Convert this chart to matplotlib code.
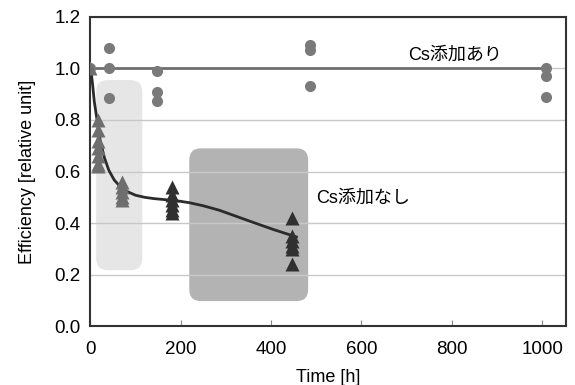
import matplotlib.pyplot as plt
from matplotlib.patches import FancyBboxPatch

plt.rcParams['font.family'] = ['Liberation Sans', 'Noto Sans CJK JP', 'DejaVu Sans']

# Cs添加あり (circles)
t_cs = [0, 42, 42, 42, 148, 148, 148, 485, 485, 485, 1009, 1009, 1009]
eff_cs = [1.0, 1.08, 1.0, 0.885, 0.99, 0.91, 0.875, 1.09, 1.07, 0.93, 1.0, 0.97, 0.89]

# Cs添加なし (triangles), early points lighter grey
t_early = [0, 16, 16, 16, 16, 16, 16, 16, 71, 71, 71, 71, 71]
eff_early = [1.0, 0.80, 0.76, 0.72, 0.69, 0.66, 0.63, 0.62, 0.56, 0.54, 0.52, 0.50, 0.49]
t_late = [181, 181, 181, 181, 181, 181, 447, 447, 447, 447, 447, 447]
eff_late = [0.54, 0.51, 0.49, 0.47, 0.45, 0.44, 0.42, 0.35, 0.33, 0.31, 0.30, 0.24]

# trend curve for Cs添加なし
t_fit = [0, 2, 5, 9, 15, 22, 31, 41, 53, 67, 82, 100, 120, 140, 164, 197, 219, 250,
         285, 320, 358, 405, 456]
eff_fit = [1.0, 0.985, 0.94, 0.87, 0.80, 0.72, 0.655, 0.605, 0.567, 0.54, 0.522, 0.508,
           0.50, 0.495, 0.491, 0.485, 0.479, 0.467, 0.45, 0.428, 0.404, 0.375, 0.346]

# level line for Cs添加あり
t_ref = [0, 1009]
eff_ref = [1.0, 1.0]

fig = plt.figure(figsize=(5.75, 3.85), dpi=100)
ax = fig.add_axes([0.157, 0.153, 0.827, 0.803])

# shaded regions (rounded boxes)
aspect = 0.00176
box1 = FancyBboxPatch((13, 0.217), 102, 0.738, boxstyle="round,pad=0,rounding_size=26",
                      mutation_aspect=aspect, fc="#e6e6e6", ec="none", zorder=0.2)
box2 = FancyBboxPatch((219, 0.097), 263, 0.593, boxstyle="round,pad=0,rounding_size=26",
                      mutation_aspect=aspect, fc="#b3b3b3", ec="none", zorder=0.2)
ax.add_patch(box1)
ax.add_patch(box2)

ax.plot(t_ref, eff_ref, color="#6f6f6f", lw=2, zorder=2)
ax.plot(t_fit, eff_fit, color="#2b2b2b", lw=2, zorder=3)
ax.plot(t_cs, eff_cs, "o", color="#7a7a7a", ms=8, mec="none", zorder=4)
ax.plot(t_early, eff_early, "^", color="#6e6e6e", ms=9.5, mec="none", zorder=4)
ax.plot(t_late, eff_late, "^", color="#303030", ms=9.5, mec="none", zorder=4)

ax.text(806, 1.05, "Cs添加あり", fontsize=13, ha="center", va="center")
ax.text(500, 0.495, "Cs添加なし", fontsize=13, ha="left", va="center")

ax.set_xlim(0, 1052)
ax.set_ylim(0, 1.2)
ax.set_xticks([0, 200, 400, 600, 800, 1000])
ax.set_yticks([0, 0.2, 0.4, 0.6, 0.8, 1.0, 1.2])
ax.set_yticklabels(["0.0", "0.2", "0.4", "0.6", "0.8", "1.0", "1.2"])
ax.tick_params(axis="x", direction="in", length=4, color="#888888", labelsize=13.5, pad=11)
ax.tick_params(axis="y", length=0, labelsize=13.5, pad=7)
ax.set_axisbelow(True)
ax.yaxis.grid(True, color="#c8c8c8", lw=1)
for s in ax.spines.values():
    s.set_color("#333333")
    s.set_linewidth(1.5)

ax.set_xlabel("Time [h]", fontsize=13, labelpad=8)
ax.set_ylabel("Efficiency [relative unit]", fontsize=13, labelpad=13)

plt.savefig("out.png", dpi=100)
plt.close()
